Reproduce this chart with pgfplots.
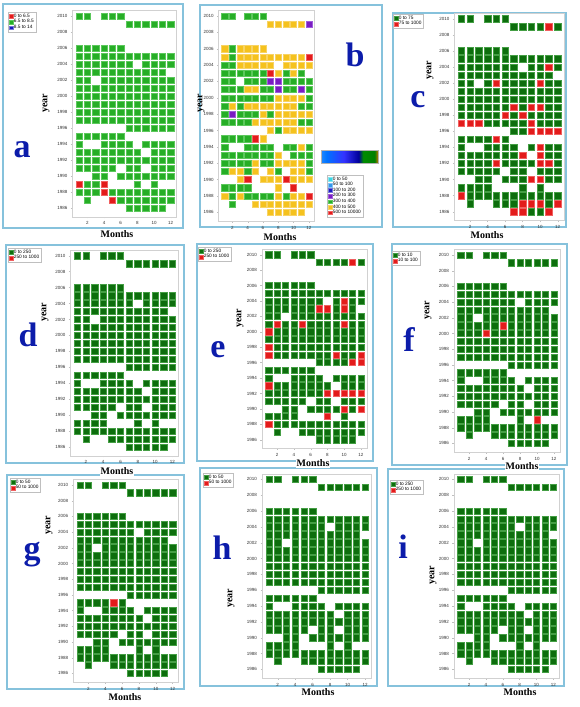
\documentclass[border=0pt]{standalone}
\usepackage{pgfplots}
\pgfplotsset{compat=1.18}
\usepackage{pgfplotstable}
\usepackage{fontspec}
\setmainfont{Liberation Sans}
\newfontfamily\titlefont{Liberation Serif}

\definecolor{gA}{HTML}{26AE26}
\definecolor{gAb}{HTML}{5CC85C}
\definecolor{gD}{HTML}{0D6E0D}
\definecolor{gDb}{HTML}{449E44}
\definecolor{cR}{HTML}{E31B1B}
\definecolor{cRb}{HTML}{F06060}
\definecolor{cY}{HTML}{F5C21E}
\definecolor{cYb}{HTML}{F8D363}
\definecolor{cP}{HTML}{7A1CC2}
\definecolor{cPb}{HTML}{9E5ADB}
\definecolor{cB}{HTML}{1A1AC0}
\definecolor{cC}{HTML}{38D6E6}
\definecolor{cLB}{HTML}{3497EC}
\definecolor{frameblue}{HTML}{86C2DC}
\definecolor{letterblue}{HTML}{0C1CAA}

\pgfdeclarehorizontalshading{cbar}{100bp}{color(0bp)=(black!10); color(13bp)=(black!14); color(14bp)=(cyan!55!blue!60); color(30bp)=(blue!55!cyan); color(45bp)=(blue!80); color(58bp)=(blue!60!black); color(62bp)=(green!55!black); color(72bp)=(green!50!black); color(76bp)=(orange!90!red); color(86bp)=(red!85!black); color(94bp)=(black); color(100bp)=(black)}

\pgfplotsset{
 hm/.style={
  anchor=south west,
  xmin=0.2, xmax=12.7, ymin=1984.9, ymax=2010.7,
  xtick={2,4,6,8,10,12}, ytick={1986,1988,...,2010},
  axis line style={black!18, line width=0.4pt},
  major tick style={black!25, line width=0.3pt}, major tick length=1.5pt,
  tick align=outside, tick pos=left,
  ticklabel style={font=\fontsize{4.5}{5}\selectfont, text=black!80},
  /pgf/number format/1000 sep={},
  /pgf/number format/assume math mode=true,
  clip=false,
  legend cell align=left,
  legend style={at={(0,1)}, anchor=north west, draw=black!25, line width=0.3pt, fill=white,
    font=\fontsize{4.8}{5.4}\selectfont, inner sep=1pt, row sep=-0.9pt, nodes={inner sep=0.8pt}},
  legend image code/.code={\draw[line width=0.3pt,##1] (0pt,-1.8pt) rectangle (3.6pt,1.8pt);},
 },
 cell/.style 2 args={only marks, mark=square*, forget plot, mark options={fill=#1, draw=#2, line width=0.45pt, solid}},
}

\pgfplotstableread[row sep=\\]{
m y\\
1 2010\\ 2 2010\\ 4 2010\\ 5 2010\\ 6 2010\\
7 2009\\ 8 2009\\ 9 2009\\ 10 2009\\ 11 2009\\ 12 2009\\
1 2006\\ 2 2006\\ 3 2006\\ 4 2006\\ 5 2006\\ 6 2006\\
1 2005\\ 2 2005\\ 3 2005\\ 4 2005\\ 5 2005\\ 6 2005\\ 7 2005\\ 8 2005\\ 9 2005\\ 10 2005\\ 11 2005\\ 12 2005\\
1 2004\\ 2 2004\\ 3 2004\\ 4 2004\\ 5 2004\\ 6 2004\\ 7 2004\\ 9 2004\\ 10 2004\\ 11 2004\\ 12 2004\\
1 2003\\ 2 2003\\ 3 2003\\ 4 2003\\ 5 2003\\ 6 2003\\ 7 2003\\ 8 2003\\ 9 2003\\ 10 2003\\ 11 2003\\
1 2002\\ 2 2002\\ 4 2002\\ 5 2002\\ 6 2002\\ 7 2002\\ 8 2002\\ 9 2002\\ 10 2002\\ 11 2002\\ 12 2002\\
1 2001\\ 2 2001\\ 3 2001\\ 4 2001\\ 5 2001\\ 6 2001\\ 7 2001\\ 8 2001\\ 9 2001\\ 10 2001\\ 11 2001\\ 12 2001\\
1 2000\\ 2 2000\\ 3 2000\\ 4 2000\\ 5 2000\\ 6 2000\\ 7 2000\\ 8 2000\\ 9 2000\\ 10 2000\\ 11 2000\\ 12 2000\\
1 1999\\ 2 1999\\ 3 1999\\ 4 1999\\ 5 1999\\ 6 1999\\ 7 1999\\ 8 1999\\ 9 1999\\ 10 1999\\ 11 1999\\ 12 1999\\
1 1998\\ 2 1998\\ 3 1998\\ 4 1998\\ 5 1998\\ 6 1998\\ 7 1998\\ 8 1998\\ 9 1998\\ 10 1998\\ 11 1998\\ 12 1998\\
1 1997\\ 2 1997\\ 3 1997\\ 4 1997\\ 5 1997\\ 6 1997\\ 7 1997\\ 8 1997\\ 9 1997\\ 10 1997\\ 11 1997\\ 12 1997\\
7 1996\\ 8 1996\\ 9 1996\\ 10 1996\\ 11 1996\\ 12 1996\\
1 1995\\ 2 1995\\ 3 1995\\ 4 1995\\ 5 1995\\ 6 1995\\
1 1994\\ 4 1994\\ 5 1994\\ 6 1994\\ 7 1994\\ 9 1994\\ 10 1994\\ 11 1994\\ 12 1994\\
1 1993\\ 2 1993\\ 3 1993\\ 4 1993\\ 5 1993\\ 6 1993\\ 7 1993\\ 8 1993\\ 10 1993\\ 11 1993\\ 12 1993\\
1 1992\\ 2 1992\\ 3 1992\\ 4 1992\\ 5 1992\\ 6 1992\\ 7 1992\\ 8 1992\\ 9 1992\\ 10 1992\\ 11 1992\\ 12 1992\\
1 1991\\ 2 1991\\ 3 1991\\ 4 1991\\ 5 1991\\ 7 1991\\ 8 1991\\ 10 1991\\ 11 1991\\ 12 1991\\
3 1990\\ 4 1990\\ 6 1990\\ 7 1990\\ 8 1990\\ 9 1990\\ 10 1990\\ 11 1990\\ 12 1990\\
1 1989\\ 2 1989\\ 3 1989\\ 4 1989\\ 8 1989\\ 10 1989\\
1 1988\\ 2 1988\\ 3 1988\\ 4 1988\\ 5 1988\\ 6 1988\\ 7 1988\\ 8 1988\\ 9 1988\\ 10 1988\\ 11 1988\\ 12 1988\\
2 1987\\ 5 1987\\ 6 1987\\ 7 1987\\ 8 1987\\ 9 1987\\ 10 1987\\ 11 1987\\ 12 1987\\
7 1986\\ 8 1986\\ 9 1986\\ 10 1986\\ 11 1986\\
}\mask

\begin{document}
\begin{tikzpicture}
\useasboundingbox (0pt,0pt) rectangle (580pt,-707pt);
\fill[white] (0pt,0pt) rectangle (580pt,-707pt);

% panel frames
\begin{scope}[draw=frameblue, line width=1.3pt]
\draw (3pt,-4pt) rectangle (183pt,-228pt);
\draw (200pt,-5pt) rectangle (382pt,-227pt);
\draw (393pt,-13pt) rectangle (566pt,-227pt);
\draw (6pt,-245pt) rectangle (184pt,-463pt);
\draw (197pt,-244pt) rectangle (373pt,-461pt);
\draw (392pt,-244pt) rectangle (567pt,-465pt);
\draw (7pt,-475pt) rectangle (184pt,-689pt);
\draw (200pt,-468pt) rectangle (377pt,-686pt);
\draw (388pt,-469pt) rectangle (564pt,-686pt);
\end{scope}

% ---------- a ----------
\begin{axis}[hm, x=8.34pt, y=8pt, at={(72.33pt,-216.8pt)}, mark size=3.2pt,
  legend style={xshift=-64.3pt, yshift=-1.6pt}]
\addlegendimage{fill=cR, draw=cRb}\addlegendentry{0 to 6.5}
\addlegendimage{fill=gA, draw=gAb}\addlegendentry{6.5 to 8.5}
\addlegendimage{fill=cB, draw=cB!60}\addlegendentry{8.5 to 14}
\addplot[cell={gA}{gAb}] table[x=m,y=y]{\mask};
\addplot[cell={cR}{cRb}] coordinates {(1,1989) (4,1989) (4,1988) (5,1987)};
\end{axis}

% ---------- b ----------
\begin{axis}[hm, x=7.66pt, y=8.18pt, at={(218.57pt,-221.3pt)}, mark size=3.06pt,
  legend style={at={(1,1)}, anchor=north west, xshift=12.7pt, yshift=-164.7pt, font=\fontsize{4.8}{5.8}\selectfont}]
\addlegendimage{fill=cC, draw=cC!60}\addlegendentry{0 to 50}
\addlegendimage{fill=cLB, draw=cLB!60}\addlegendentry{50 to 100}
\addlegendimage{fill=cB, draw=cB!60}\addlegendentry{100 to 200}
\addlegendimage{fill=cP, draw=cPb}\addlegendentry{200 to 300}
\addlegendimage{fill=gA, draw=gAb}\addlegendentry{300 to 400}
\addlegendimage{fill=cY, draw=cYb}\addlegendentry{400 to 500}
\addlegendimage{fill=cR, draw=cRb}\addlegendentry{500 to 10000}
\addplot[cell={cY}{cYb}] table[x=m,y=y]{\mask};
\addplot[cell={gA}{gAb}] coordinates {
(1,2010)(2,2010)(4,2010)(5,2010)(6,2010)
(2,2006)(2,2005)(1,2004)(2,2004)
(1,2003)(2,2003)(3,2003)(4,2003)(5,2003)(6,2003)(9,2003)(11,2003)
(1,2002)(2,2002)(4,2002)(5,2002)(6,2002)(9,2002)(10,2002)(11,2002)(12,2002)
(1,2001)(2,2001)(3,2001)(6,2001)(7,2001)(9,2001)(10,2001)(12,2001)
(1,2000)(2,2000)(3,2000)(4,2000)(5,2000)(6,2000)(7,2000)(12,2000)
(1,1999)(3,1999)(11,1999)(12,1999)
(1,1998)(3,1998)(4,1998)(5,1998)(7,1998)
(1,1997)(2,1997)(3,1997)(4,1997)(11,1997)(12,1997)
(8,1996)
(1,1995)(2,1995)(3,1995)(4,1995)
(1,1994)(4,1994)(5,1994)(6,1994)(7,1994)(9,1994)(10,1994)(12,1994)
(1,1993)(2,1993)(3,1993)(4,1993)(5,1993)(6,1993)(7,1993)(10,1993)(11,1993)(12,1993)
(1,1992)(2,1992)(3,1992)(4,1992)(6,1992)(7,1992)(12,1992)
(1,1991)(4,1991)(8,1991)(12,1991)
(1,1989)(2,1989)(3,1989)(4,1989)
(2,1988)(4,1988)(5,1988)(6,1988)(7,1988)(9,1988)
(2,1987)};
\addplot[cell={cP}{cPb}] coordinates {(12,2009)(7,2002)(8,2002)(8,2001)(11,2001)(2,1998)};
\addplot[cell={cR}{cRb}] coordinates {(12,2005)(7,2003)(5,1995)(4,1990)(9,1990)(10,1989)(12,1988)};
\end{axis}

% ---------- c ----------
\begin{axis}[hm, x=8.76pt, y=8.04pt, at={(454.3pt,-220.5pt)}, mark size=3.2pt,
  legend style={xshift=-61.3pt, yshift=-0.9pt}]
\addlegendimage{fill=gD, draw=gDb}\addlegendentry{0 to 75}
\addlegendimage{fill=cR, draw=cRb}\addlegendentry{75 to 1000}
\addplot[cell={gD}{gDb}] table[x=m,y=y]{\mask};
\addplot[cell={cR}{cRb}] coordinates {(11,2009)(11,2004)(5,2002)(10,2002)(7,1999)(9,1999)(10,1999)(6,1998)(8,1998)
(1,1997)(2,1997)(3,1997)(9,1997)(9,1996)(10,1996)(11,1996)(12,1996)(5,1995)(10,1994)(8,1993)(10,1993)
(5,1992)(10,1992)(11,1992)(9,1990)(10,1990)(1,1988)(8,1987)(9,1987)(10,1987)(12,1987)(7,1986)(8,1986)(11,1986)};
\end{axis}

% ---------- d ----------
\begin{axis}[hm, x=8.64pt, y=7.97pt, at={(70.39pt,-455.75pt)}, mark size=3.19pt,
  legend style={xshift=-62.4pt, yshift=2.1pt}]
\addlegendimage{fill=gD, draw=gDb}\addlegendentry{0 to 250}
\addlegendimage{fill=cR, draw=cRb}\addlegendentry{250 to 1000}
\addplot[cell={gD}{gDb}] table[x=m,y=y]{\mask};
\end{axis}

% ---------- e ----------
\begin{axis}[hm, x=8.39pt, y=7.71pt, at={(261.99pt,-448.2pt)}, mark size=3.08pt,
  legend style={xshift=-64pt, yshift=2.3pt}]
\addlegendimage{fill=gD, draw=gDb}\addlegendentry{0 to 250}
\addlegendimage{fill=cR, draw=cRb}\addlegendentry{250 to 1000}
\addplot[cell={gD}{gDb}] table[x=m,y=y]{\mask};
\addplot[cell={cR}{cRb}] coordinates {(11,2009)(10,2004)(7,2003)(8,2003)(10,2003)(2,2001)(5,2001)(10,2001)(1,2000)
(1,1998)(1,1997)(9,1997)(12,1997)(11,1996)(12,1996)(1,1993)(8,1992)(9,1992)(10,1992)(11,1992)(12,1992)
(10,1990)(12,1990)(8,1989)(1,1988)};
\end{axis}

% ---------- f ----------
\begin{axis}[hm, x=8.48pt, y=7.85pt, at={(453.9pt,-452.0pt)}, mark size=3.14pt,
  legend style={xshift=-61.9pt, yshift=-1.5pt}]
\addlegendimage{fill=gD, draw=gDb}\addlegendentry{0 to 10}
\addlegendimage{fill=cR, draw=cRb}\addlegendentry{10 to 100}
\addplot[cell={gD}{gDb}] table[x=m,y=y]{\mask};
\addplot[cell={cR}{cRb}] coordinates {(6,2001)(4,2000)(10,1989)};
\end{axis}

% ---------- g ----------
\begin{axis}[hm, x=8.42pt, y=7.85pt, at={(73.26pt,-682.0pt)}, mark size=3.14pt,
  legend style={xshift=-63.3pt, yshift=1.5pt}]
\addlegendimage{fill=gD, draw=gDb}\addlegendentry{0 to 50}
\addlegendimage{fill=cR, draw=cRb}\addlegendentry{50 to 1000}
\addplot[cell={gD}{gDb}] table[x=m,y=y]{\mask};
\addplot[cell={cR}{cRb}] coordinates {(5,1995)};
\end{axis}

% ---------- h ----------
\begin{axis}[hm, x=8.73pt, y=7.92pt, at={(262.0pt,-678.1pt)}, mark size=3.17pt,
  legend style={xshift=-59pt, yshift=0.8pt}]
\addlegendimage{fill=gD, draw=gDb}\addlegendentry{0 to 50}
\addlegendimage{fill=cR, draw=cRb}\addlegendentry{50 to 1000}
\addplot[cell={gD}{gDb}] table[x=m,y=y]{\mask};
\end{axis}

% ---------- i ----------
\begin{axis}[hm, x=8.42pt, y=7.92pt, at={(453.96pt,-678.1pt)}, mark size=3.17pt,
  legend style={xshift=-64pt, yshift=-6.2pt}]
\addlegendimage{fill=gD, draw=gDb}\addlegendentry{0 to 250}
\addlegendimage{fill=cR, draw=cRb}\addlegendentry{250 to 1000}
\addplot[cell={gD}{gDb}] table[x=m,y=y]{\mask};
\end{axis}

% colour bar of b
\shade[shading=cbar] (321pt,-150pt) rectangle (378pt,-163pt);
\draw[black!30, line width=0.3pt] (321pt,-150pt) rectangle (378pt,-163pt);

% Months labels
\begin{scope}[every node/.style={font=\titlefont\bfseries\fontsize{10}{10}\selectfont, fill=white, inner sep=1pt}]
\node at (117pt,-234pt) {Months};
\node at (280pt,-237pt) {Months};
\node at (487pt,-235pt) {Months};
\node at (117pt,-471pt) {Months};
\node at (313pt,-463pt) {Months};
\node at (522pt,-466pt) {Months};
\node at (125pt,-697pt) {Months};
\node at (318pt,-692pt) {Months};
\node at (520pt,-692pt) {Months};
\end{scope}

% year labels
\begin{scope}[every node/.style={font=\titlefont\bfseries\fontsize{10}{10}\selectfont, rotate=90, inner sep=0pt}]
\node at (46pt,-103pt) {year};
\node at (201pt,-103pt) {year};
\node at (430pt,-70pt) {year};
\node at (45pt,-312pt) {year};
\node at (240pt,-318pt) {year};
\node at (428pt,-310pt) {year};
\node at (49pt,-525pt) {year};
\node at (231pt,-598pt) {year};
\node at (433pt,-575pt) {year};
\end{scope}

% panel letters
\begin{scope}[every node/.style={font=\titlefont\bfseries\fontsize{34}{34}\selectfont, text=letterblue, inner sep=0pt}]
\node at (22pt,-150pt) {a};
\node at (355pt,-55pt) {b};
\node at (418pt,-100pt) {c};
\node at (28pt,-335pt) {d};
\node at (218pt,-350pt) {e};
\node at (409pt,-340pt) {f};
\node at (32pt,-555pt) {g};
\node at (222pt,-548pt) {h};
\node at (403pt,-547pt) {i};
\end{scope}
\end{tikzpicture}
\end{document}
